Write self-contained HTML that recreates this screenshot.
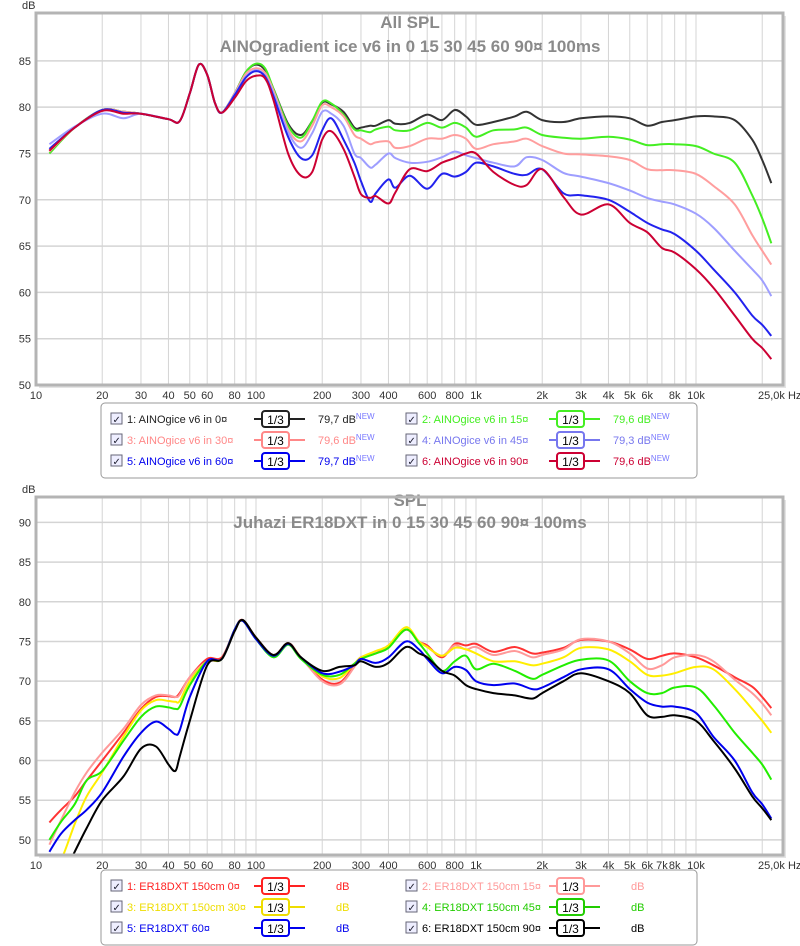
<!DOCTYPE html>
<html><head><meta charset="utf-8"><style>
body{margin:0;background:#fff;}
svg{display:block;font-family:"Liberation Sans",sans-serif;}
</style></head><body>
<svg id="svg" width="800" height="946" viewBox="0 0 800 946" xmlns="http://www.w3.org/2000/svg"></svg>
<script>
// ---------- TOP CHART DATA ----------
const topFreqs=[11.5,15,20,25,30,40,45,50,55,60,65,70,80,90,100,110,120,140,160,180,200,220,250,280,300,330,350,400,430,500,600,700,800,900,1000,1200,1500,1700,2000,2500,3000,4000,5000,6000,7000,8000,10000,12000,15000,18000,20000,22000];
const top0=[75.3,77.8,79.7,79.5,79.3,78.7,78.5,81.5,84.6,83.5,80.5,79.4,81.5,83.8,84.6,84.0,82.0,78.2,77.0,78.5,80.5,80.3,79.5,77.8,77.8,78.0,78.0,78.6,78.2,78.3,79.2,78.6,79.7,79.0,78.1,78.4,79.0,79.5,78.6,78.4,78.8,79.0,78.8,78.0,78.4,78.6,79.0,79.0,78.6,76.5,74.3,71.8];
const top15=[75.0,77.8,79.7,79.5,79.3,78.7,78.5,81.5,84.6,83.5,80.5,79.4,81.5,83.8,84.7,84.2,82.0,78.0,76.7,78.5,80.6,80.4,79.2,77.6,77.5,77.3,77.6,77.9,77.5,77.5,78.3,77.8,78.3,77.8,76.8,77.5,77.6,77.8,77.0,76.7,76.6,76.8,76.5,75.9,76.0,76.0,75.8,75.0,74.0,70.5,68.0,65.3];
const top30=[75.2,77.8,79.7,79.5,79.3,78.7,78.5,81.5,84.6,83.5,80.5,79.4,81.5,83.6,84.2,83.7,81.8,77.6,76.3,78.0,80.2,80.0,79.0,77.0,76.6,76.0,76.2,76.3,75.6,75.8,76.6,76.6,77.0,76.6,75.5,76.0,76.3,76.6,75.8,75.0,74.9,74.7,74.3,73.3,73.2,73.2,72.8,71.5,69.5,66.2,64.5,63.0];
const top45=[76.0,77.9,79.3,78.8,79.3,78.7,78.5,81.5,84.6,83.5,80.5,79.4,81.4,83.3,84.0,83.4,81.5,77.3,75.6,77.2,79.5,79.3,78.0,75.0,74.5,73.5,73.8,75.0,74.5,74.0,74.1,74.6,75.2,74.8,74.5,74.0,73.6,74.6,74.3,72.9,72.5,71.8,71.0,70.2,69.8,69.5,68.5,67.0,64.5,62.5,61.3,59.6];
const top60=[75.5,77.8,79.7,79.4,79.3,78.7,78.5,81.5,84.6,83.5,80.5,79.4,81.3,83.2,83.9,83.3,81.2,76.8,74.5,74.8,77.5,78.8,76.5,74.0,72.0,69.8,70.7,72.2,71.3,72.6,71.2,72.8,72.5,73.0,74.0,73.6,72.8,72.7,73.3,70.7,70.5,70.0,68.7,67.5,66.8,66.3,64.5,62.5,60.0,57.5,56.5,55.3];
const top90=[75.3,77.8,79.6,79.3,79.3,78.7,78.5,81.5,84.6,83.5,80.5,79.4,81.0,82.8,83.4,83.1,80.8,75.0,72.6,73.0,76.5,77.4,75.5,72.5,70.6,70.2,70.4,69.6,70.8,73.3,73.1,74.0,74.5,75.0,75.0,73.0,71.6,71.6,73.3,70.3,68.4,69.5,67.5,66.5,64.8,64.3,62.5,60.5,57.5,55.0,54.0,52.8];
const topTicksY=[50,55,60,65,70,75,80,85];
// ---------- BOTTOM CHART DATA ----------
const botFreqs=[11.5,13,15,17,20,25,30,35,40,43,45,50,60,70,80,87,100,120,140,160,200,240,280,300,350,400,480,550,600,700,800,900,1000,1200,1500,1800,2000,2500,3000,4000,5000,6000,7000,8000,10000,12000,15000,18000,20000,22000];
const bot0=[52.2,53.8,55.5,57.5,60,63.5,66.5,68,68.1,68,68.5,70.5,72.8,73,76.5,77.7,75.5,73.3,74.8,73,70.2,69.8,72,73,73.5,74.5,76.5,75,74.5,73,74.7,74.5,74.7,73.7,74.3,73.5,73.6,74.2,75.2,75,74,72.8,73.2,73.5,73,72,70.5,69.3,68,66.6];
const bot15=[49.4,52.5,56,58.5,61,64,67,68.2,68.2,68,68.3,70.5,72.5,72.8,76.5,77.6,75.5,73.2,74.7,73,70,69.6,71.8,73,73.5,74.3,76.5,75,74.3,73.2,74.5,74,74.3,73.3,73.8,73,73.3,74,75.3,75,73.5,71.6,72,73,73.3,72.5,70.2,68.5,67.2,65.7];
const bot30=[46,47.5,52,55.5,58.5,63,66.3,67.6,67.5,67.4,67.5,70,72.5,72.8,76.5,77.6,75.5,73.2,74.7,73,70.6,70.4,72.2,73,73.8,74.5,76.8,75,74.3,73.2,74.2,74,73.5,72.5,72.5,72,72.2,73,74.2,74,72.5,70.8,70.7,71,71.8,71.5,69,66.5,65,63.5];
const bot45=[50,52.3,54.5,57.5,58.7,62.5,65.5,66.8,66.7,66.5,66.8,69.5,72.5,72.8,76.5,77.6,75.3,73,74.6,72.8,70.8,70.8,72.2,72.8,73.5,74.2,76.5,74.8,73.5,71.3,72.5,73.2,71.5,72.2,71.3,70.3,70.8,72,72.7,72.6,70,68.5,68.5,69.2,69.2,67,63.5,61,59.5,57.6];
const bot60=[48.5,50.8,52.5,53.8,56,60.5,63.5,64.9,64,63.3,63.8,68,72.5,72.8,76.5,77.6,75.3,73.2,74.7,73,71,71.2,72,72.8,72.3,73,75,74,72.8,71,71.8,71.4,70,69.5,69.7,69,69.2,70.5,71.5,71.5,69,67.3,66.8,66.8,66,63,60,56,54.5,52.7];
const bot90=[42,45,48.5,51.5,55,58,61.5,61.8,59.5,58.7,60.5,65,72,72.8,76.3,77.7,75.5,73.3,74.8,73,71.3,71.8,72,72.5,71.8,72.3,74.3,73.5,73,71.3,70.7,69.5,69,68.5,68.2,67.8,68.5,70,71,70,68.5,65.7,65.5,65.7,65,62.5,59,55.5,54,52.5];
const botTicksY=[50,55,60,65,70,75,80,85,90];
const topXLabels=["10","20","30","40","50","60","80","100","200","300","400","600","800","1k","2k","3k","4k","5k","6k","8k","10k"];
const topXVals=[10,20,30,40,50,60,80,100,200,300,400,600,800,1000,2000,3000,4000,5000,6000,8000,10000];
const botXLabels=["10","20","30","40","50","60","80","100","200","300","400","600","800","1k","2k","3k","4k","5k","6k","7k","8k","10k"];
const botXVals=[10,20,30,40,50,60,80,100,200,300,400,600,800,1000,2000,3000,4000,5000,6000,7000,8000,10000];

const NS="http://www.w3.org/2000/svg";
const svg=document.getElementById('svg');
function mk(tag,attrs,parent,text){const e=document.createElementNS(NS,tag);for(const k in attrs)e.setAttribute(k,attrs[k]);if(text!==undefined)e.textContent=text;(parent||svg).appendChild(e);return e;}
const X0=36,X1=783,DEC=220;
function xs(f){return X0+DEC*(Math.log10(f)-1);}
const gridF=[];
for(let d=10;d<10000;d*=10)for(let m=1;m<10;m++)gridF.push(d*m);
gridF.push(10000,20000);

function chart(id,top,bottom,yMin,yMax,ticksY,xLabels,xVals,series,colors,title1,title2,t1y,t2y){
  const ys=v=>bottom-(v-yMin)/(yMax-yMin)*(bottom-top);
  const g=mk('g',{},svg);
  
  
  mk('rect',{x:X0+3,y:top+3,width:X1-X0,height:bottom-top,fill:'#e4e4e4'},g);
  mk('rect',{x:X0,y:top,width:X1-X0,height:bottom-top,fill:'#fff'},g);
  gridF.forEach(f=>{const x=xs(f);const l=mk('line',{x1:x,x2:x,y1:top,y2:bottom,stroke:'#d4d4d4','stroke-width':1},g);});
  ticksY.forEach(v=>{const y=ys(v);mk('line',{x1:X0,x2:X1,y1:y,y2:y,stroke:'#d4d4d4','stroke-width':1.5},g);
    const t=mk('text',{x:X0-5,y:y+4,'text-anchor':'end','font-size':11,fill:'#333'},g,String(v));});
  const ylab=mk('text',{x:22,y:top-4,'font-size':11,fill:'#333'},g,'dB');
  xLabels.forEach((s,i)=>{const t=mk('text',{x:xs(xVals[i]),y:bottom+14,'text-anchor':'middle','font-size':11,fill:'#333'},g,s);});
  const hz=mk('text',{x:758,y:bottom+14,'font-size':11,fill:'#333'},g,'25,0k Hz');
  const t1=mk('text',{x:410,y:t1y,'text-anchor':'middle','font-size':17,'font-weight':'bold',fill:'#8a8a8a'},g,title1);
  const t2=mk('text',{x:410,y:t2y,'text-anchor':'middle','font-size':17,'font-weight':'bold',fill:'#8a8a8a'},g,title2);
  const cid='clip'+id;const cp=mk('clipPath',{id:cid},g);mk('rect',{x:X0,y:top,width:X1-X0,height:bottom-top},cp);
  const sg=mk('g',{'clip-path':'url(#'+cid+')'},g);
  series.forEach((s,si)=>{
    const pts=s.f.map((f,i)=>[xs(f),ys(s.v[i])]);
    let d='M'+pts[0][0].toFixed(1)+','+pts[0][1].toFixed(1);
    for(let i=0;i<pts.length-1;i++){const p0=pts[Math.max(0,i-1)],p1=pts[i],p2=pts[i+1],p3=pts[Math.min(pts.length-1,i+2)];
      const c1=[p1[0]+(p2[0]-p0[0])/6,p1[1]+(p2[1]-p0[1])/6],c2=[p2[0]-(p3[0]-p1[0])/6,p2[1]-(p3[1]-p1[1])/6];
      d+='C'+c1[0].toFixed(1)+','+c1[1].toFixed(1)+' '+c2[0].toFixed(1)+','+c2[1].toFixed(1)+' '+p2[0].toFixed(1)+','+p2[1].toFixed(1);}
    const p=mk('path',{d:d,fill:'none',stroke:colors[si],'stroke-width':2,'stroke-linejoin':'round'},sg);
    
    
  });
  mk('rect',{x:X0,y:top,width:X1-X0,height:bottom-top,fill:'none',stroke:'#b4b4b4','stroke-width':3},g);
}
const topColors=['#333333','#44ee22','#ff9e9e','#9e9eff','#2222ee','#cc0033'];
chart('top-chart',13,385,50,90.17,topTicksY,topXLabels,topXVals,
 [{name:'0',f:topFreqs,v:top0},{name:'15',f:topFreqs,v:top15},{name:'30',f:topFreqs,v:top30},{name:'45',f:topFreqs,v:top45},{name:'60',f:topFreqs,v:top60},{name:'90',f:topFreqs,v:top90}],
 topColors,'All SPL','AINOgradient ice v6 in 0 15 30 45 60 90¤ 100ms',28,52);
const botColors=['#ff3333','#ff9999','#ffee00','#22ee00','#0000ee','#000000'];
chart('bottom-chart',497,855,48.1,93.2,botTicksY,botXLabels,botXVals,
 [{name:'0',f:botFreqs,v:bot0},{name:'15',f:botFreqs,v:bot15},{name:'30',f:botFreqs,v:bot30},{name:'45',f:botFreqs,v:bot45},{name:'60',f:botFreqs,v:bot60},{name:'90',f:botFreqs,v:bot90}],
 botColors,'SPL','Juhazi ER18DXT in 0 15 30 45 60 90¤ 100ms',506,528);

function legend(id,y0,labels,colors,values,showNew){
  const g=mk('g',{},svg);
  
  
  mk('rect',{x:101,y:y0,width:596,height:75,rx:4,fill:'#fff',stroke:'#999','stroke-width':1},g);
  labels.forEach((lab,i)=>{
    const col=i%2,row=Math.floor(i/2);
    const bx=col?406:111,ry=y0+16+row*21;
    const e=mk('g',{},g);
    
    
    mk('rect',{x:bx,y:ry-6,width:11,height:11,fill:'#eef',stroke:'#667','stroke-width':1},e);
    mk('text',{x:bx+1.5,y:ry+4,'font-size':10,fill:'#223'},e,'✓');
    mk('text',{x:bx+16,y:ry+4,'font-size':11,fill:colors[i]},e,lab);
    const sx=bx+151;
    mk('line',{x1:sx-8,x2:sx+43,y1:ry,y2:ry,stroke:colors[i],'stroke-width':2},e);
    mk('rect',{x:sx,y:ry-8,width:27,height:16,rx:3,fill:'#fff',stroke:colors[i],'stroke-width':2},e);
    mk('text',{x:sx+13.5,y:ry+5,'font-size':12,'text-anchor':'middle',fill:'#000'},e,'1/3');
    const vt=mk('text',{x:bx+(values[i]?207:225),y:ry+4,'font-size':11,fill:colors[i]},e,values[i]?values[i]+' dB':'dB');
    if(showNew){mk('tspan',{'font-size':8,dy:-4,fill:'#7777ff'},vt,'NEW');}
  });
}
legend('top-legend',403,['1: AINOgice v6 in 0¤','2: AINOgice v6 in 15¤','3: AINOgice v6 in 30¤','4: AINOgice v6 in 45¤','5: AINOgice v6 in 60¤','6: AINOgice v6 in 90¤'],
 ['#222','#44ee22','#ff8888','#7777ee','#0000ee','#cc0033'],['79,7','79,6','79,6','79,3','79,7','79,6'],true);
legend('bottom-legend',870,['1: ER18DXT 150cm 0¤','2: ER18DXT 150cm 15¤','3: ER18DXT 150cm 30¤','4: ER18DXT 150cm 45¤','5: ER18DXT 60¤','6: ER18DXT 150cm 90¤'],
 ['#ff2222','#ff9999','#eedd00','#22cc00','#0000ee','#000'],['','','','','',''],false);
</script>
</body></html>
